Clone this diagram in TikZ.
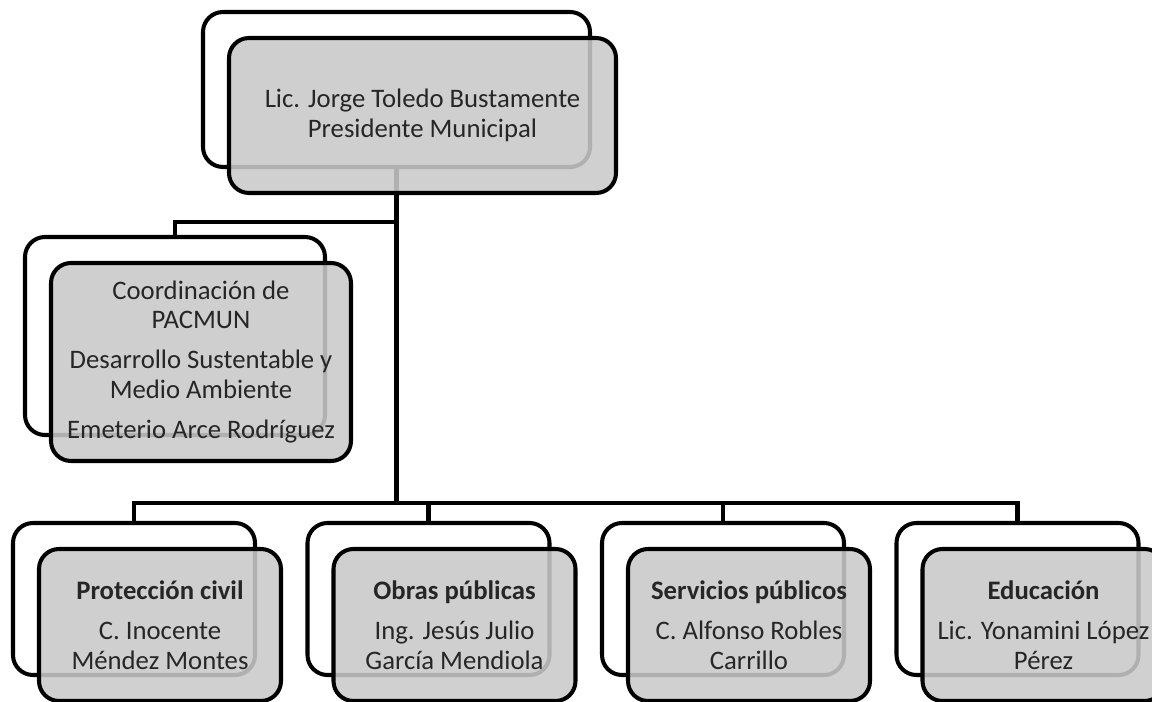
\documentclass[tikz,border=0pt]{standalone}
\usepackage{fontspec}
\setmainfont{Carlito}
\usetikzlibrary{calc,positioning}
\newdimen\hdim
\newdimen\wdim
\newdimen\odim
\hdim=3.04cm
\wdim=4.84cm
\odim=0.52cm
\tikzstyle{backbox}=[
  draw=black,
  fill=white,
  inner sep=0pt,
  line width=2.3pt,
  minimum height=\hdim,
  minimum width=\wdim,
  outer sep=0pt,
  rectangle,
  rounded corners=0.4cm,
]
\tikzstyle{frontbox}=[
  backbox,
  align=center,
  fill=black!21,
  fill opacity=0.88,
  font={\fontsize{15.2}{16.8}\selectfont},
  text=black!85,
  text opacity=1,
]
\tikzstyle{link}=[
  draw=black,
  line width=2.3pt,
]
\tikzset{
  node distance=5.89cm,
}
\begin{document}
\begin{tikzpicture}
  \useasboundingbox (0,0) rectangle (23.04,-14.04);
  \node (back-pres) [backbox, minimum width=7.74cm, minimum height=3.1cm] at (7.93,-1.79) {};
  \node (back-coord) [backbox, minimum width=6cm, minimum height=3.96cm] at (3.5,-6.72) {};
  %%
  \node (back-civil) [backbox] at (2.68,-11.98) {};
  \node (back-obras) [backbox, right of=back-civil] {};
  \node (back-serv) [backbox, right of=back-obras] {};
  \node (back-edu) [backbox, right of=back-serv] {};
  %%
  \coordinate (spur) at (back-pres.south |- 0,-4.44);
  \coordinate (bus) at (back-pres.south |- 0,-10.06);
  \draw [link] (back-pres.south) -- (bus);
  \draw [link] (spur) -| (back-coord.north);
  \foreach \n in {civil,obras,serv,edu}
    \draw [link] (bus) -| (back-\n.north);
  %%
  \node (pres) [frontbox, minimum width=7.74cm, minimum height=3.1cm]
    at ($(back-pres)+(\odim,-\odim)$)
    {Lic. Jorge Toledo Bustamente\\Presidente Municipal};
  \node (coord) [frontbox, minimum width=6cm, minimum height=3.96cm]
    at ($(back-coord)+(\odim,-\odim)$)
    {Coordinación de\\PACMUN\\[6pt]Desarrollo Sustentable y\\Medio Ambiente\\[6pt]Emeterio Arce Rodríguez};
  \node (civil) [frontbox] at ($(back-civil)+(\odim,-\odim)$)
    {\textbf{Protección civil}\\[6pt]C. Inocente\\Méndez Montes};
  \node (obras) [frontbox] at ($(back-obras)+(\odim,-\odim)$)
    {\textbf{Obras públicas}\\[6pt]Ing. Jesús Julio\\García Mendiola};
  \node (serv) [frontbox] at ($(back-serv)+(\odim,-\odim)$)
    {\textbf{Servicios públicos}\\[6pt]C. Alfonso Robles\\Carrillo};
  \node (edu) [frontbox] at ($(back-edu)+(\odim,-\odim)$)
    {\textbf{Educación}\\[6pt]Lic. Yonamini López\\Pérez};
\end{tikzpicture}
\end{document}
